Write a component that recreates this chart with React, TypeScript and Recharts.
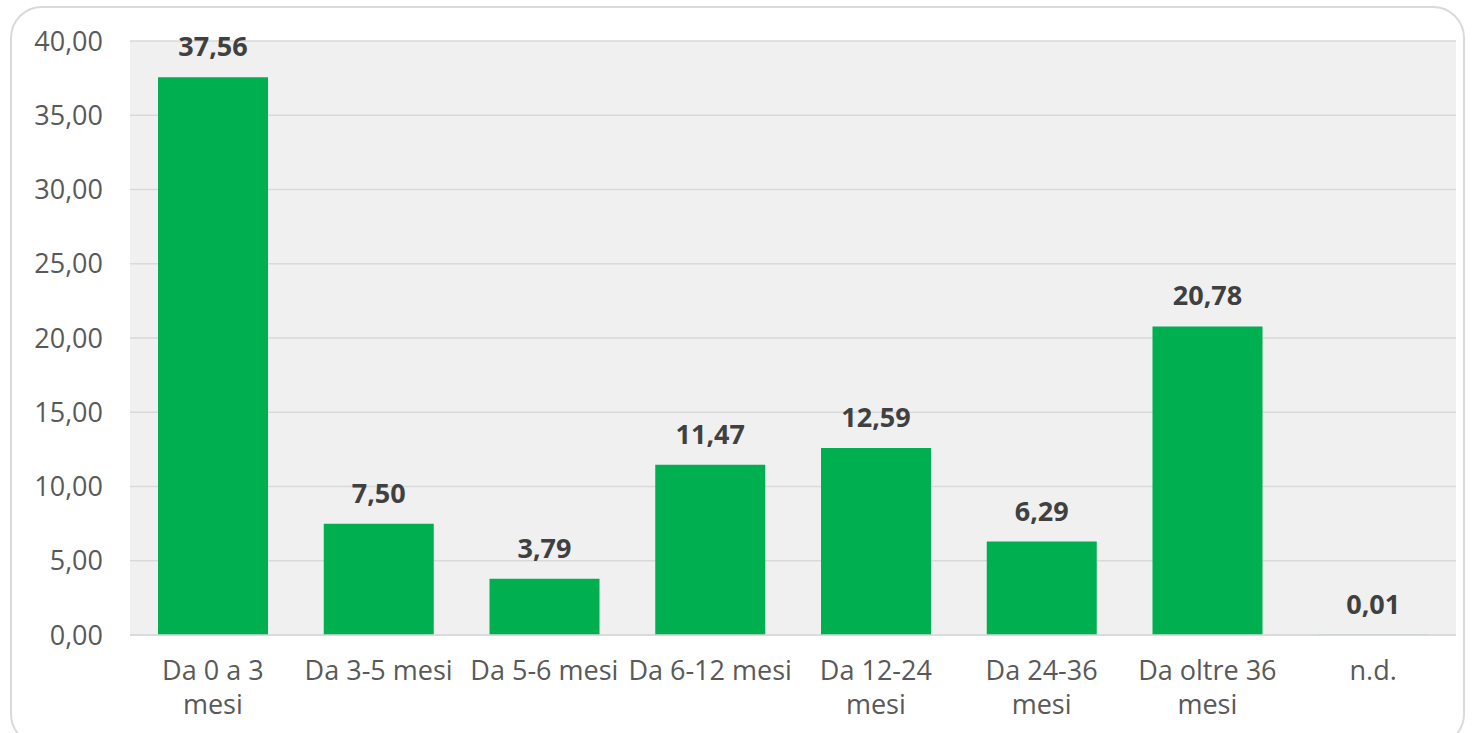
import { Bar, BarChart, CartesianGrid, LabelList, XAxis, YAxis } from 'recharts';

const categories = [
  'Da 0 a 3\nmesi',
  'Da 3-5 mesi',
  'Da 5-6 mesi',
  'Da 6-12 mesi',
  'Da 12-24\nmesi',
  'Da 24-36\nmesi',
  'Da oltre 36\nmesi',
  'n.d.',
];
const values = [37.56, 7.5, 3.79, 11.47, 12.59, 6.29, 20.78, 0.01];
const yTicks = [0, 5, 10, 15, 20, 25, 30, 35, 40];

const data = categories.map((name, i) => ({ name, value: values[i] }));

const fmt = (v: number) => v.toFixed(2).replace('.', ',');
const FONT = '"Open Sans", sans-serif';

function CategoryTick({ x, y, payload }: any) {
  const lines = String(payload.value).split('\n');
  return (
    <text x={x} y={y} textAnchor="middle" fill="#595959" fontSize={27} fontFamily={FONT}>
      {lines.map((line, i) => (
        <tspan key={i} x={x} dy={i === 0 ? 37 : 34}>
          {line}
        </tspan>
      ))}
    </text>
  );
}

export default function App() {
  return (
    <div style={{ position: 'absolute', left: 0, top: 0, width: 1476, height: 733, background: '#fff', overflow: 'hidden' }}>
      <div
        style={{
          position: 'absolute',
          left: 10,
          top: 6,
          width: 1455,
          height: 740,
          border: '2px solid #dadada',
          borderRadius: 32,
          boxSizing: 'border-box',
        }}
      />
      <div style={{ position: 'absolute', left: 0, top: 0 }}>
        <BarChart width={1476} height={733} data={data} margin={{ top: 41, right: 20, bottom: 0, left: 0 }}>
          <CartesianGrid vertical={false} fill="#f0f0f0" stroke="#d9d9d9" strokeWidth={1.5} />
          <XAxis
            dataKey="name"
            height={98}
            tick={<CategoryTick />}
            tickLine={false}
            axisLine={{ stroke: '#d9d9d9', strokeWidth: 1.5 }}
            interval={0}
          />
          <YAxis
            width={130}
            domain={[0, 40]}
            ticks={yTicks}
            tickFormatter={fmt}
            axisLine={false}
            tickLine={false}
            tickSize={0}
            tickMargin={27}
            tick={{ fill: '#595959', fontSize: 27, fontFamily: FONT }}
          />
          <Bar dataKey="value" fill="#00b050" barSize={110} isAnimationActive={false}>
            <LabelList
              dataKey="value"
              position="top"
              offset={21}
              formatter={(v: any) => fmt(Number(v))}
              style={{ fill: '#404040', fontSize: 27, fontWeight: 700, fontFamily: FONT }}
            />
          </Bar>
        </BarChart>
      </div>
    </div>
  );
}
